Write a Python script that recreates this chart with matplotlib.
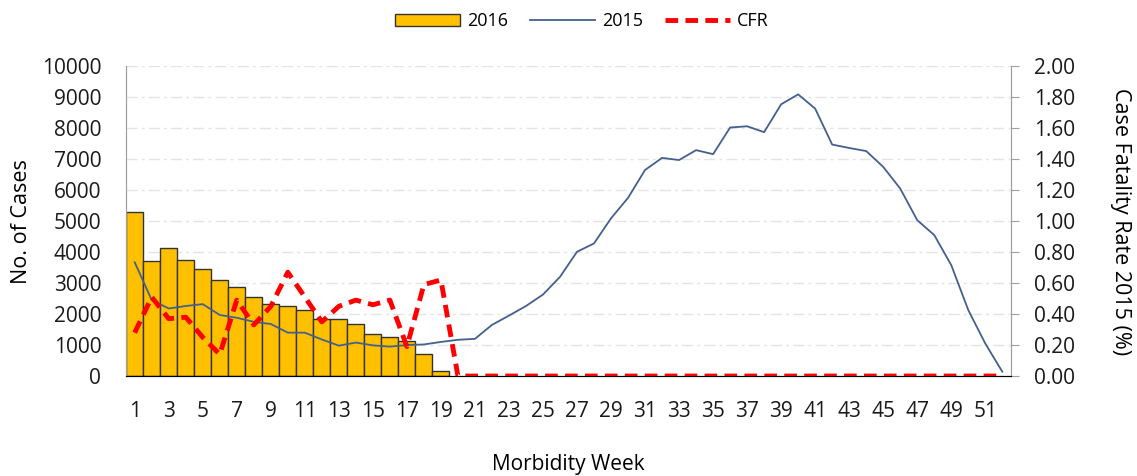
import numpy as np
import matplotlib.pyplot as plt

plt.rcParams['font.family'] = ['Open Sans', 'DejaVu Sans']

# Morbidity weeks
weeks = np.arange(1, 53)

# 2016 cases, weeks 1-19
cases_2016 = [5280, 3700, 4120, 3730, 3460, 3110, 2870, 2560, 2330, 2250,
              2140, 1830, 1830, 1670, 1350, 1250, 1130, 700, 170]

# 2015 cases, weeks 1-52
cases_2015 = [3670, 2450, 2180, 2260, 2320, 1970, 1880, 1750, 1680, 1400,
              1400, 1180, 980, 1080, 990, 950, 1000, 1020, 1100, 1170,
              1200, 1650, 1950, 2260, 2630, 3200, 4010, 4280, 5090, 5750,
              6650, 7040, 6970, 7290, 7160, 8020, 8060, 7870, 8770, 9090,
              8630, 7470, 7360, 7260, 6750, 6050, 5030, 4550, 3580, 2130,
              1050, 140]

# case fatality rate (%), weeks 1-52
cfr = [0.28, 0.51, 0.37, 0.38, 0.25, 0.14, 0.49, 0.33, 0.45, 0.67,
       0.51, 0.35, 0.45, 0.49, 0.46, 0.49, 0.19, 0.59, 0.62] + [0.0] * 33

fig = plt.figure(figsize=(11.37, 4.76), dpi=100)
ax = fig.add_axes([0.111, 0.21, 0.778, 0.651])
ax2 = ax.twinx()

b = ax.bar(weeks[:len(cases_2016)], cases_2016, width=1.0, color='#FFC000',
           edgecolor='#333333', linewidth=1.0, label='2016', zorder=2)
l1, = ax.plot(weeks, cases_2015, color='#44608F', linewidth=1.3,
              label='2015', zorder=3)
l2, = ax2.plot(weeks, cfr, color='#FF0000', linewidth=3.5,
               linestyle=(0, (2.6, 1.5)), label='CFR', zorder=4)

ax.set_xlim(0.5, 52.5)
ax.set_ylim(0, 10000)
ax.set_yticks(np.arange(0, 10001, 1000))
ax2.set_ylim(0, 2.0)
ax2.set_yticks(np.arange(0, 2.01, 0.2))
ax2.set_yticklabels(['%.2f' % v for v in np.arange(0, 2.01, 0.2)])
ax.set_xticks(np.arange(1, 53, 2))

ax.yaxis.grid(True, color='#E4E4E4', linestyle=(0, (8, 3, 2, 3)), linewidth=1)
ax.set_axisbelow(True)

for a in (ax, ax2):
    a.spines['top'].set_visible(False)
    a.spines['left'].set_color('#A0A0A0')
    a.spines['right'].set_color('#A0A0A0')
    a.spines['bottom'].set_color('#000000')
    a.tick_params(labelsize=15, colors='#A0A0A0', labelcolor='#1a1a1a')
ax.tick_params(axis='x', length=0, pad=18)
ax.tick_params(axis='y', length=0, pad=18)
ax2.tick_params(axis='y', length=6, pad=11)

ax.set_ylabel('No. of Cases', fontsize=15.5, labelpad=7)
ax2.set_ylabel('Case Fatality Rate 2015 (%)', fontsize=15.5, rotation=270,
               labelpad=40)
ax.set_xlabel('Morbidity Week', fontsize=15, labelpad=23)

fig.legend(handles=[b, l1, l2], labels=['2016', '2015', 'CFR'],
           loc='center', bbox_to_anchor=(0.512, 0.955), ncol=3, frameon=False,
           fontsize=13, handlelength=3.6, columnspacing=1.2, handletextpad=0.4)

fig.savefig('out.png', dpi=100)
